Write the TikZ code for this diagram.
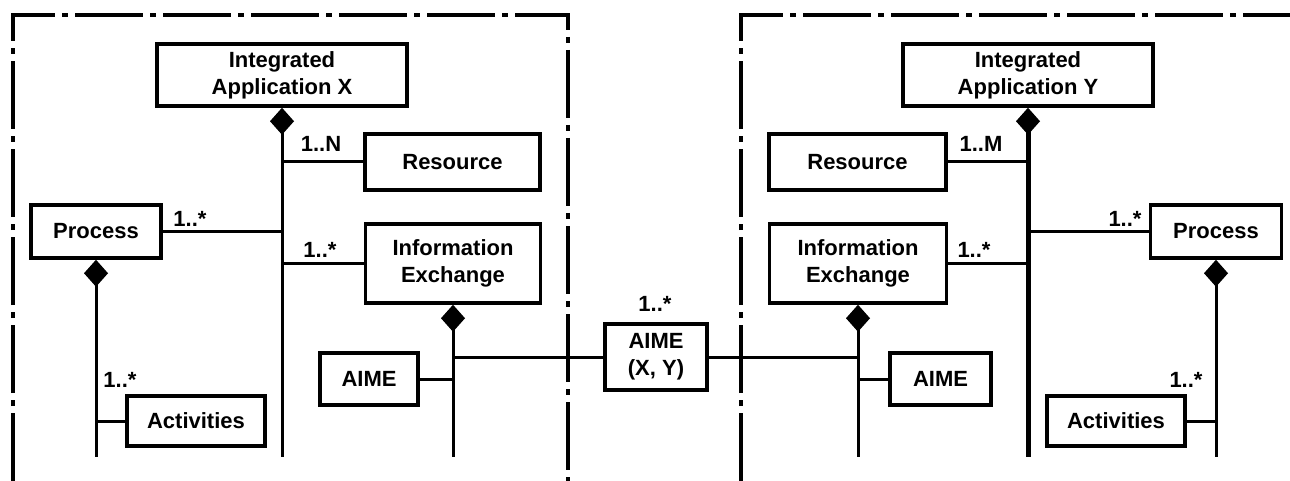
\documentclass[tikz,border=0pt]{standalone}
\usepackage{fontspec}
\setmainfont{Liberation Sans}
\usetikzlibrary{arrows.meta}

\begin{document}
\begin{tikzpicture}[x=1pt,y=-1pt]
    \useasboundingbox (0,0) rectangle (1290,481);

    % dash-dot frames round the two applications
    \begin{scope}[line width=3.5pt,dash pattern=on 68pt off 7pt on 6pt off 7pt]
      \draw (13,481) -- (13,15) -- (568,15) -- (568,481);
      \draw (741,481) -- (741,15) -- (1300,15);
    \end{scope}

    \begin{scope}[every node/.style={draw,line width=3.5pt,inner sep=0pt,align=center,
        font=\bfseries\fontsize{22}{27}\selectfont}]
      \node[minimum width=250pt,minimum height=62pt] (iax) at (282,75) {Integrated\\Application X};
      \node[minimum width=175pt,minimum height=56pt] (resx) at (452.5,162) {Resource};
      \node[minimum width=130pt,minimum height=53pt] (procx) at (96,231.5) {Process};
      \node[minimum width=175pt,minimum height=79pt] (iex) at (453,263.5) {Information\\Exchange};
      \node[minimum width=138pt,minimum height=50pt] (actx) at (196,421) {Activities};
      \node[minimum width=98pt,minimum height=52pt] (aimex) at (369,379) {AIME};
      \node[minimum width=102pt,minimum height=66pt] (aimexy) at (656,357) {AIME\\(X, Y)};
      \node[minimum width=250pt,minimum height=62pt] (iay) at (1028,75) {Integrated\\Application Y};
      \node[minimum width=177pt,minimum height=56pt] (resy) at (857.5,162) {Resource};
      \node[minimum width=177pt,minimum height=79pt] (iey) at (858,263.5) {Information\\Exchange};
      \node[minimum width=131pt,minimum height=53pt] (procy) at (1216,231.5) {Process};
      \node[minimum width=101pt,minimum height=52pt] (aimey) at (940.5,379) {AIME};
      \node[minimum width=138pt,minimum height=50pt] (acty) at (1116,421) {Activities};
    \end{scope}

    \coordinate (xend) at (282,457);
    \coordinate (pxend) at (96,457);
    \coordinate (iexend) at (453,457);
    \coordinate (yend) at (1028,457);
    \coordinate (pyend) at (1216,457);
    \coordinate (ieyend) at (858,457);

    \begin{scope}[every edge/.style={draw=black,line width=3pt}]
      \path [{Diamond[length=27pt,width=24pt]}-] (iax) edge (xend);
      \path [{Diamond[length=27pt,width=24pt]}-] (procx) edge (pxend);
      \path [{Diamond[length=27pt,width=24pt]}-] (iex) edge (iexend);
      \path [{Diamond[length=27pt,width=24pt]}-,every edge/.append style={line width=5pt}] (iay) edge (yend);
      \path [{Diamond[length=27pt,width=24pt]}-] (procy) edge (pyend);
      \path [{Diamond[length=27pt,width=24pt]}-] (iey) edge (ieyend);
      \path (resx) edge (resx -| xend);
      \path (procx) edge (procx -| xend);
      \path (iex) edge (iex -| xend);
      \path (actx) edge (actx -| pxend);
      \path (aimex) edge (aimex -| iexend);
      \path (aimexy) edge (aimexy -| iexend);
      \path (aimexy) edge (aimexy -| ieyend);
      \path (resy) edge (resy -| yend);
      \path (iey) edge (iey -| yend);
      \path (procy) edge (procy -| yend);
      \path (acty) edge (acty -| pyend);
      \path (aimey) edge (aimey -| ieyend);
    \end{scope}

    % multiplicities
    \begin{scope}[every node/.style={inner sep=0pt,font=\bfseries\fontsize{22}{27}\selectfont}]
      \node (mresx) at (321,144) {1..N};
      \node (mprocx) at (190,219) {1..*};
      \node (miex) at (320,250) {1..*};
      \node (mactx) at (120,380) {1..*};
      \node (maimexy) at (655,304) {1..*};
      \node (mresy) at (981,144) {1..M};
      \node (miey) at (974,250) {1..*};
      \node (mprocy) at (1125,219) {1..*};
      \node (macty) at (1186,380) {1..*};
    \end{scope}
  \end{tikzpicture}
\end{document}
